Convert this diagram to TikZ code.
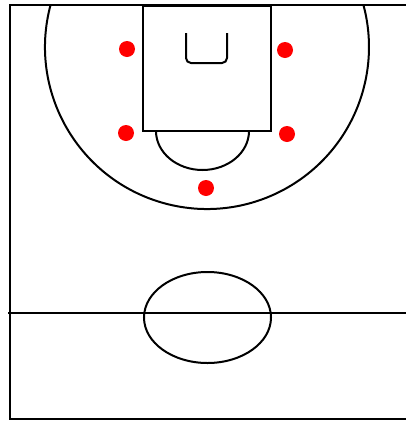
\documentclass[tikz,border=0pt]{standalone}
\begin{document}
\begin{tikzpicture}[x=1pt,y=-1pt,
  court/.style={line width=2pt,black},
  thinline/.style={line width=1.5pt,black},
  keyline/.style={line width=2.6pt,black},
  player/.style={fill=red,draw=none}]
\useasboundingbox (0,0) rectangle (406,421);
\fill[white] (0,0) rectangle (406,421);
% outer lines
\draw[thinline] (406,5) -- (10,5) -- (10,419) -- (406,419);
% midline
\draw[court] (8,313) -- (406,313);
% center circle
\draw[court] (207.5,317.5) ellipse [x radius=63.5, y radius=45.5];
% three point arc
\draw[court] (207,47) ++(195:162) arc[start angle=195, end angle=-15, radius=162];
% key
\draw[keyline] (143,6) rectangle (271,131);
% free throw semicircle
\draw[court] (156,131) arc[start angle=180, end angle=0, x radius=46.5, y radius=39];
% basket
\draw[court,rounded corners=5pt] (186,33) -- (186,63) -- (227,63) -- (227,33);
% players
\fill[player] (127,49) circle[radius=8];
\fill[player] (285,50) circle[radius=8];
\fill[player] (126,133) circle[radius=8];
\fill[player] (287,134) circle[radius=8];
\fill[player] (206,188) circle[radius=8];
\end{tikzpicture}
\end{document}
